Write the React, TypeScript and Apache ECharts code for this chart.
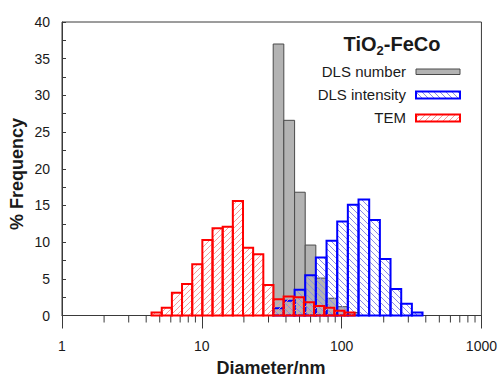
import React, { useEffect, useRef } from "react";
import * as echarts from "echarts";

// DLS bin edges (nm) shared by DLS number and DLS intensity
const dlsEdges = [32.4, 38.6, 46.1, 54.9, 65.4, 78.0, 93.0, 110.8, 132.1, 157.5, 187.8, 223.8, 266.9, 318.1, 379.1];
const dlsNumber = [37.0, 26.6, 16.8, 9.6, 5.1, 2.35, 1.2, 0.4];
const dlsIntensity = [1.0, 2.0, 3.5, 5.5, 7.9, 10.2, 12.8, 15.1, 15.8, 13.0, 7.7, 3.6, 1.6, 0.4];
// TEM bin edges (nm)
const temEdges = [4.37, 5.17, 6.11, 7.22, 8.54, 10.09, 11.93, 14.1, 16.67, 19.71, 23.29, 27.54, 32.55, 38.47, 45.48, 53.76, 63.53, 75.1, 88.78, 104.9, 124.0];
const temValues = [0.4, 1.05, 3.1, 4.3, 7.0, 10.3, 11.9, 12.1, 15.6, 9.25, 8.35, 4.15, 2.2, 2.6, 2.5, 1.8, 1.3, 1.05, 0.65, 0.4];
const xMinorTicks = [2, 3, 4, 5, 6, 7, 8, 9, 20, 30, 40, 50, 60, 70, 80, 90, 200, 300, 400, 500, 600, 700, 800, 900];
const legendNames = ["DLS number", "DLS intensity", "TEM"];

const FONT = "'Liberation Sans', Arial, sans-serif";
const AXIS_COLOR = "#3a3a3a";
const TEXT_COLOR = "#1a1a1a";

function hatchLines(x0: number, y0: number, x1: number, y1: number, dir: number, spacing: number, style: any) {
  const out: any[] = [];
  if (dir === 1) {
    const cStart = Math.ceil((x0 + y0) / spacing) * spacing;
    for (let c = cStart; c <= x1 + y1; c += spacing) {
      const xa = Math.max(x0, c - y1);
      const xb = Math.min(x1, c - y0);
      if (xb > xa + 0.3) out.push({ type: "line", silent: true, shape: { x1: xa, y1: c - xa, x2: xb, y2: c - xb }, style });
    }
  } else {
    const cStart = Math.ceil((y0 - x1) / spacing) * spacing;
    for (let c = cStart; c <= y1 - x0; c += spacing) {
      const xa = Math.max(x0, y0 - c);
      const xb = Math.min(x1, y1 - c);
      if (xb > xa + 0.3) out.push({ type: "line", silent: true, shape: { x1: xa, y1: xa + c, x2: xb, y2: xb + c }, style });
    }
  }
  return out;
}

function binData(edges: number[], values: number[]) {
  return values.map((v, i) => [edges[i], edges[i + 1], v]);
}

type BarStyle = { fill?: string; stroke: string; lw: number; hatchDir?: number; hatchColor?: string };

function makeRender(s: BarStyle) {
  return (params: any, api: any) => {
    const lo = api.value(0);
    const hi = api.value(1);
    const v = api.value(2);
    const p0 = api.coord([lo, v]);
    const p1 = api.coord([hi, 0]);
    const x0 = p0[0], y0 = p0[1], x1 = p1[0], y1 = p1[1];
    const children: any[] = [];
    if (s.fill) {
      children.push({ type: "rect", shape: { x: x0, y: y0, width: x1 - x0, height: y1 - y0 }, style: { fill: s.fill } });
    }
    if (s.hatchDir) {
      children.push(...hatchLines(x0, y0, x1, y1, s.hatchDir, 6, { stroke: s.hatchColor, lineWidth: 1 }));
    }
    children.push({
      type: "rect",
      shape: { x: x0, y: y0, width: x1 - x0, height: y1 - y0 },
      style: { fill: "none", stroke: s.stroke, lineWidth: s.lw },
    });
    return { type: "group", children };
  };
}

const greyStyle: BarStyle = { fill: "#b3b3b3", stroke: "#4a4a4a", lw: 1 };
const blueStyle: BarStyle = { stroke: "#0000ff", lw: 2, hatchDir: -1, hatchColor: "#8a8ae6" };
const redStyle: BarStyle = { stroke: "#ff0000", lw: 2, hatchDir: 1, hatchColor: "#f29a9a" };

function legendSwatch(x: number, y: number, w: number, h: number, s: BarStyle) {
  const children: any[] = [];
  if (s.fill) children.push({ type: "rect", shape: { x, y, width: w, height: h }, style: { fill: s.fill } });
  if (s.hatchDir) children.push(...hatchLines(x, y, x + w, y + h, s.hatchDir, 6, { stroke: s.hatchColor, lineWidth: 1 }));
  children.push({ type: "rect", shape: { x, y, width: w, height: h }, style: { fill: "none", stroke: s.stroke, lineWidth: s.lw } });
  return { type: "group", children };
}

export default function App() {
  const ref = useRef<HTMLDivElement>(null);
  useEffect(() => {
    if (!ref.current) return;
    const chart = echarts.init(ref.current, null, { renderer: "svg" });
    const option: any = {
      animation: false,
      backgroundColor: "#ffffff",
      grid: { left: 62, top: 22, width: 420, height: 293.5, show: true, borderColor: AXIS_COLOR, borderWidth: 1 },
      xAxis: {
        type: "log",
        logBase: 10,
        min: 1,
        max: 1000,
        axisLine: { show: true, onZero: false, lineStyle: { color: AXIS_COLOR, width: 1 } },
        axisTick: { show: true, inside: false, length: 13, lineStyle: { color: AXIS_COLOR, width: 1 } },
        minorTick: { show: false },
        splitLine: { show: false },
        axisLabel: {
          fontSize: 14,
          fontFamily: FONT,
          color: TEXT_COLOR,
          margin: 23,
          formatter: (v: number) => String(Math.round(v)),
        },
      },
      yAxis: {
        type: "value",
        min: 0,
        max: 40,
        interval: 5,
        axisLine: { show: true, lineStyle: { color: AXIS_COLOR, width: 1 } },
        axisTick: { show: true, inside: true, length: 4, lineStyle: { color: AXIS_COLOR } },
        minorTick: { show: true, splitNumber: 2, length: 4, lineStyle: { color: AXIS_COLOR } },
        splitLine: { show: false },
        axisLabel: { fontSize: 14, fontFamily: FONT, color: TEXT_COLOR, margin: 12 },
      },
      series: [
        {
          type: "custom",
          name: "minor",
          clip: false,
          silent: true,
          encode: { x: 0, y: 1 },
          data: xMinorTicks.map((v) => [v, 0]),
          renderItem: (params: any, api: any) => {
            const p = api.coord([api.value(0), 0]);
            return {
              type: "line",
              shape: { x1: p[0], y1: p[1], x2: p[0], y2: p[1] + 7 },
              style: { stroke: AXIS_COLOR, lineWidth: 1 },
            };
          },
        },
        {
          type: "custom",
          name: legendNames[0],
          encode: { x: [0, 1], y: 2 },
          data: binData(dlsEdges, dlsNumber),
          renderItem: makeRender(greyStyle),
        },
        {
          type: "custom",
          name: legendNames[1],
          encode: { x: [0, 1], y: 2 },
          data: binData(dlsEdges, dlsIntensity),
          renderItem: makeRender(blueStyle),
        },
        {
          type: "custom",
          name: legendNames[2],
          encode: { x: [0, 1], y: 2 },
          data: binData(temEdges, temValues),
          renderItem: makeRender(redStyle),
        },
      ],
      graphic: [
        {
          type: "text",
          x: 392,
          y: 34,
          style: {
            text: "{b|TiO}{s|2}{b|-FeCo}",
            textAlign: "center",
            fill: TEXT_COLOR,
            rich: {
              b: { fontSize: 20, fontWeight: "bold", fontFamily: FONT, lineHeight: 22, verticalAlign: "top", fill: TEXT_COLOR },
              s: { fontSize: 13, fontWeight: "bold", fontFamily: FONT, lineHeight: 14, padding: [10, 0, 0, 0], verticalAlign: "top", fill: TEXT_COLOR },
            },
          },
        },
        { type: "text", x: 406, y: 71.5, style: { text: legendNames[0], fontSize: 15, fontFamily: FONT, fill: TEXT_COLOR, textAlign: "right", textVerticalAlign: "middle" } },
        { type: "text", x: 406, y: 94.5, style: { text: legendNames[1], fontSize: 15, fontFamily: FONT, fill: TEXT_COLOR, textAlign: "right", textVerticalAlign: "middle" } },
        { type: "text", x: 406, y: 117.5, style: { text: legendNames[2], fontSize: 15, fontFamily: FONT, fill: TEXT_COLOR, textAlign: "right", textVerticalAlign: "middle" } },
        legendSwatch(416, 69, 44, 5.5, greyStyle),
        legendSwatch(416, 91.5, 44, 7, blueStyle),
        legendSwatch(416, 114.5, 44, 7, redStyle),
        {
          type: "text",
          x: 271,
          y: 368,
          style: { text: "Diameter/nm", fontSize: 18, fontWeight: "bold", fontFamily: FONT, fill: TEXT_COLOR, textAlign: "center", textVerticalAlign: "middle" },
        },
        {
          type: "text",
          x: 17,
          y: 174,
          rotation: Math.PI / 2,
          style: { text: "% Frequency", fontSize: 18, fontWeight: "bold", fontFamily: FONT, fill: TEXT_COLOR, textAlign: "center", textVerticalAlign: "middle" },
        },
      ],
    };
    chart.setOption(option);
    return () => chart.dispose();
  }, []);
  return <div ref={ref} style={{ position: "fixed", left: 0, top: 0, width: 500, height: 378 }} />;
}
